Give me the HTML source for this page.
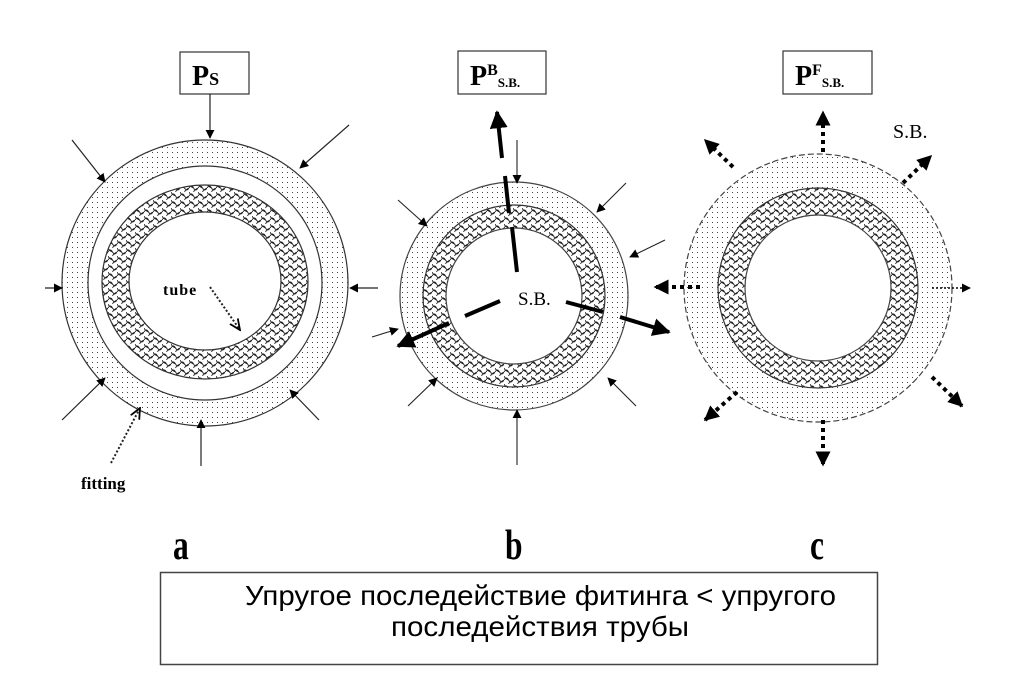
<!DOCTYPE html>
<html><head><meta charset="utf-8"><style>
html,body{margin:0;padding:0;background:#fff;}
svg{display:block;}
</style></head><body>
<svg width="1025" height="692" viewBox="0 0 1025 692" xmlns="http://www.w3.org/2000/svg">
<defs>
<pattern id="dots" width="5" height="5" patternUnits="userSpaceOnUse">
<rect x="2" y="2" width="1" height="1" fill="#444"/>
</pattern>
<pattern id="scale" width="9" height="8" patternUnits="userSpaceOnUse">
<path d="M0 4 Q2.2 0 4.5 4 Q6.8 8 9 4 M0 0 Q1 2.5 4.5 4 M4.5 8 Q5.5 5.5 9 4" fill="none" stroke="#222" stroke-width="0.9"/>
</pattern>
<marker id="ah" viewBox="0 0 10 10" refX="9" refY="5" markerWidth="9" markerHeight="9" markerUnits="userSpaceOnUse" orient="auto"><path d="M0 0 L10 5 L0 10 z" fill="#000"/></marker>
<marker id="ahb" viewBox="0 0 10 10" refX="9" refY="5" markerWidth="18" markerHeight="18" markerUnits="userSpaceOnUse" orient="auto"><path d="M0 0 L10 5 L0 10 z" fill="#000"/></marker>
<marker id="ahd" viewBox="0 0 10 10" refX="9" refY="5" markerWidth="15" markerHeight="15" markerUnits="userSpaceOnUse" orient="auto"><path d="M0 0 L10 5 L0 10 z" fill="#000"/></marker>
<marker id="aho" viewBox="0 0 10 10" refX="9" refY="5" markerWidth="12" markerHeight="12" markerUnits="userSpaceOnUse" orient="auto"><path d="M0 1 L9 5 L0 9" fill="none" stroke="#000" stroke-width="1.5"/></marker>
</defs>

<!-- ===== a ===== -->
<circle cx="205" cy="283" r="143" fill="url(#dots)" stroke="#333" stroke-width="1.2"/>
<circle cx="205" cy="283" r="117" fill="#fff" stroke="#333" stroke-width="1.2"/>
<ellipse cx="205" cy="282" rx="103" ry="97" fill="#fff"/>
<ellipse cx="205" cy="282" rx="103" ry="97" fill="url(#scale)" stroke="#333" stroke-width="1.2"/>
<ellipse cx="205" cy="281" rx="76" ry="69" fill="#fff" stroke="#333" stroke-width="1.2"/>
<rect x="180" y="52" width="69" height="42" fill="#fff" stroke="#333" stroke-width="1.2"/>
<text x="192" y="85" font-family="Liberation Serif, serif" font-weight="bold" font-size="28">P<tspan font-size="18">S</tspan></text>
<g stroke="#222" stroke-width="1.2" marker-end="url(#ah)">
<line x1="210" y1="94" x2="210" y2="138"/>
<line x1="72" y1="140" x2="105" y2="182"/>
<line x1="349" y1="125" x2="300" y2="168"/>
<line x1="45" y1="288" x2="62" y2="288"/>
<line x1="378" y1="288" x2="350" y2="288"/>
<line x1="62" y1="420" x2="105" y2="378"/>
<line x1="319" y1="420" x2="290" y2="390"/>
<line x1="201" y1="466" x2="201" y2="420"/>
</g>
<g stroke="#222" stroke-width="2" stroke-dasharray="2,2" marker-end="url(#aho)">
<line x1="111" y1="463" x2="140" y2="408"/>
<line x1="210" y1="287" x2="240" y2="330"/>
</g>
<text x="163" y="295" font-family="Liberation Serif, serif" font-weight="bold" font-size="16" letter-spacing="1">tube</text>
<text x="81" y="489" font-family="Liberation Serif, serif" font-weight="bold" font-size="17">fitting</text>

<!-- ===== b ===== -->
<circle cx="514" cy="296" r="114" fill="url(#dots)" stroke="#444" stroke-width="1.2"/>
<circle cx="514" cy="296" r="91" fill="#fff"/>
<circle cx="514" cy="296" r="91" fill="url(#scale)" stroke="#333" stroke-width="1.2"/>
<circle cx="514" cy="296" r="68" fill="#fff" stroke="#444" stroke-width="1.2"/>
<rect x="458" y="51" width="88" height="43" fill="#fff" stroke="#333" stroke-width="1.2"/>
<text x="470" y="85" font-family="Liberation Serif, serif" font-weight="bold" font-size="28">P<tspan font-size="16" dy="-10">B</tspan><tspan font-size="13" dy="12">S.B.</tspan></text>
<g stroke="#222" stroke-width="1.1" marker-end="url(#ah)">
<line x1="517" y1="140" x2="517" y2="183"/>
<line x1="626" y1="183" x2="597" y2="212"/>
<line x1="665" y1="240" x2="630" y2="257"/>
<line x1="398" y1="200" x2="427" y2="226"/>
<line x1="372" y1="337" x2="398" y2="329"/>
<line x1="408" y1="406" x2="437" y2="378"/>
<line x1="636" y1="406" x2="608" y2="378"/>
<line x1="517" y1="465" x2="517" y2="410"/>
</g>
<g stroke="#000" stroke-width="4">
<line x1="517" y1="272" x2="512" y2="227"/>
<line x1="509" y1="213" x2="505" y2="176"/>
<line x1="502" y1="158" x2="497" y2="112" marker-end="url(#ahb)"/>
<line x1="500" y1="301" x2="465" y2="316"/>
<line x1="449" y1="323" x2="398" y2="346" marker-end="url(#ahb)"/>
<line x1="566" y1="302" x2="603" y2="312"/>
<line x1="620" y1="317" x2="669" y2="332" marker-end="url(#ahb)"/>
</g>
<text x="518" y="305" font-family="Liberation Serif, serif" font-size="19">S.B.</text>

<!-- ===== c ===== -->
<circle cx="818" cy="288" r="134" fill="url(#dots)" stroke="#444" stroke-width="1.2" stroke-dasharray="6,3"/>
<circle cx="818" cy="288" r="100" fill="#fff"/>
<circle cx="818" cy="288" r="100" fill="url(#scale)" stroke="#333" stroke-width="1.2"/>
<circle cx="818" cy="288" r="73" fill="#fff" stroke="#444" stroke-width="1.2"/>
<rect x="783" y="51" width="89" height="43" fill="#fff" stroke="#333" stroke-width="1.2"/>
<text x="795" y="85" font-family="Liberation Serif, serif" font-weight="bold" font-size="28">P<tspan font-size="16" dy="-10">F</tspan><tspan font-size="13" dy="12">S.B.</tspan></text>
<text x="893" y="138" font-family="Liberation Serif, serif" font-size="20">S.B.</text>
<g stroke="#000" stroke-width="4" stroke-dasharray="4,4">
<line x1="823" y1="152" x2="823" y2="112" marker-end="url(#ahd)"/>
<line x1="733" y1="167" x2="705" y2="140" marker-end="url(#ahd)"/>
<line x1="903" y1="183" x2="931" y2="156" marker-end="url(#ahd)"/>
<line x1="700" y1="287" x2="655" y2="287" marker-end="url(#ahd)"/>
<line x1="737" y1="392" x2="705" y2="420" marker-end="url(#ahd)"/>
<line x1="932" y1="377" x2="962" y2="406" marker-end="url(#ahd)"/>
<line x1="823" y1="420" x2="823" y2="465" marker-end="url(#ahd)"/>
</g>
<line x1="932" y1="288" x2="970" y2="288" stroke="#000" stroke-width="1.5" stroke-dasharray="2,2" marker-end="url(#ah)"/>

<!-- labels -->
<g font-family="Liberation Serif, serif" font-weight="bold" font-size="42">
<text transform="translate(173,559) scale(0.75,1)">a</text>
<text transform="translate(505,559) scale(0.75,1)">b</text>
<text transform="translate(810,559) scale(0.75,1)">c</text>
</g>
<rect x="160.5" y="572.5" width="717" height="92" fill="#fff" stroke="#444" stroke-width="1.5"/>
<g font-family="Liberation Sans, sans-serif" font-size="28" fill="#000">
<text x="245" y="605" textLength="591" lengthAdjust="spacingAndGlyphs">Упругое последействие фитинга &lt; упругого</text>
<text x="391" y="636" textLength="298" lengthAdjust="spacingAndGlyphs">последействия трубы</text>
</g>
</svg>
</body></html>
